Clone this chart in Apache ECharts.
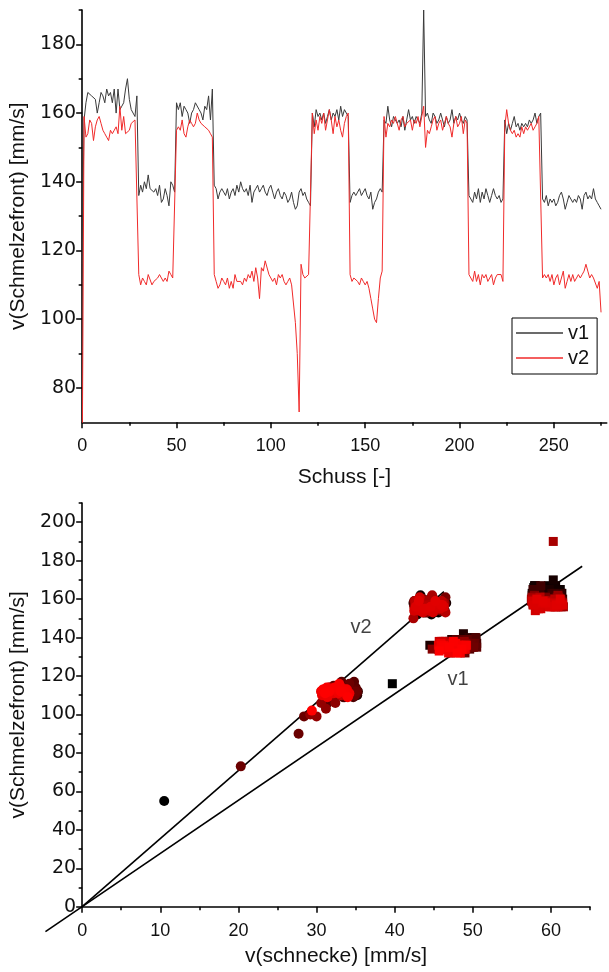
<!DOCTYPE html>
<html><head><meta charset="utf-8">
<script src="https://cdn.jsdelivr.net/npm/echarts@6/dist/echarts.min.js"></script>
<style>html,body{margin:0;padding:0;background:#fff}#c{width:609px;height:972px}</style>
</head><body><div id="c"></div>
<script>
// v(Schmelzefront) per shot (index = Schuss)
const v1 = [116,
158,163,166,166,165,165,164,160,163,166,
165,163,167,165,166,163,167,160,167,161,
162,163,167,170,164,161,160,159,165,
136,139,137,140,138,142,138,138,137,138,
136,139,134,135,138,136,133,140,139,137,
163,161,163,159,162,161,160,157,160,161,
163,163,161,160,158,162,161,165,158,167,
139,138,135,137,138,137,136,138,135,137,
138,136,139,137,140,138,137,138,136,139,
134,137,138,139,137,138,139,137,136,138,
139,137,135,137,138,136,135,137,136,134,
135,137,134,132,133,137,138,136,137,135,
134,133,
160,156,161,159,160,158,160,157,159,161,
158,160,159,161,158,162,159,161,160,159,
134,136,137,136,137,138,136,137,138,136,
135,137,132,134,135,137,138,137,
158,157,162,158,156,159,159,157,158,156,
159,155,158,161,158,159,157,159,158,157,
160,190,159,160,158,157,160,159,157,158,
160,158,156,159,157,158,161,157,159,158,
160,158,157,159,158,
136,135,134,137,135,138,134,137,135,138,
136,134,136,138,136,135,136,134,135,
158,154,157,155,157,159,156,157,155,157,
156,157,156,158,157,158,160,157,159,160,
135,134,136,133,135,134,135,133,134,136,
137,135,132,134,136,135,134,135,134,136,
135,132,136,137,135,136,135,138,135,134,
133,132];
const v2 = [55,
159,153,154,158,157,152,156,158,159,157,
155,154,153,152,155,154,155,156,154,162,
155,159,154,154,155,157,157,158,158,
113,110,112,111,110,113,113,110,111,111,
112,113,112,111,112,111,114,113,112,112,
155,156,155,158,154,153,156,158,157,156,
157,160,158,157,157,156,156,155,154,153,
113,111,109,110,112,111,110,112,109,111,
109,113,111,111,111,110,112,111,113,112,
114,111,115,112,106,115,114,117,117,113,
112,111,112,110,113,112,113,111,110,111,
112,110,110,99,90,73,116,113,112,112,
113,113,
160,154,158,155,159,157,160,155,158,161,
158,154,159,156,158,155,153,157,159,160,
113,111,112,112,111,110,112,111,110,111,
109,106,103,100,99,106,112,114,
159,153,157,156,158,157,159,157,155,158,
159,156,157,157,158,155,158,157,159,156,
159,162,150,155,154,156,158,159,155,157,
158,155,157,159,157,156,153,157,159,156,
157,159,154,158,157,
113,112,111,114,111,113,110,113,112,113,
111,112,113,110,112,113,113,113,111,
156,161,157,155,154,155,153,154,153,156,
154,156,155,156,157,155,156,157,159,159,
112,113,112,113,111,113,110,112,113,110,
112,114,109,111,113,111,113,111,112,113,
112,113,114,116,114,112,113,112,112,109,
111,102];
// v(schnecke) paired with v1 (squares) and with v2 (circles), per shot
const s1 = [39.7,
59.2,58.1,60.4,57.8,59.9,61.0,58.5,60.2,57.6,59.5,
60.8,58.3,59.7,61.2,58.8,60.0,57.9,59.3,60.6,58.6,
59.1,61.4,58.0,60.3,59.6,57.7,60.9,58.4,59.8,
44.5,49.6,47.4,50.2,48.1,48.8,47.0,50.4,47.7,49.3,
47.6,49.9,48.4,49.1,47.2,50.3,47.9,49.5,47.3,49.7,
60.1,58.2,61.3,59.0,57.6,60.7,58.9,59.7,61.0,57.9,
60.4,58.6,59.4,61.5,58.0,60.2,59.1,57.7,60.9,58.7,
48.3,50.1,47.1,49.0,47.8,50.5,47.5,49.4,48.6,46.9,
49.8,48.0,49.2,47.3,50.4,48.5,48.9,47.6,50.0,48.2,
49.6,47.0,48.7,47.9,50.3,47.4,49.1,48.4,49.7,47.2,
49.3,48.1,50.5,46.8,48.8,47.7,49.9,47.5,49.5,48.3,
47.1,50.2,48.6,49.0,47.3,49.8,48.0,49.4,47.6,50.1,
47.8,48.7,
58.4,60.6,59.3,57.8,61.1,58.9,60.0,59.6,57.5,60.8,
58.2,59.9,61.4,58.6,60.3,57.9,59.2,61.0,58.0,60.5,
44.8,48.0,46.3,48.7,46.9,47.6,45.8,49.1,46.5,48.2,
46.1,48.4,47.2,45.6,47.8,46.7,48.9,46.0,
59.5,57.7,60.9,58.3,61.3,59.0,57.9,60.4,58.7,61.6,
59.8,58.1,60.2,57.6,61.0,58.9,59.4,60.7,58.4,61.2,
57.8,60.3,59.1,58.5,61.4,59.7,57.5,60.6,58.8,59.9,
61.1,58.2,60.0,57.9,59.3,61.5,58.6,60.8,59.2,57.7,
60.5,58.0,61.2,59.6,58.4,
47.7,45.9,48.8,46.6,48.3,46.2,49.1,47.0,47.5,45.7,
48.5,47.3,48.0,46.0,48.9,46.7,47.4,46.3,48.6,
60.2,58.0,61.3,58.7,59.6,57.6,60.9,59.1,58.4,61.1,
59.8,57.8,60.4,58.9,61.5,59.3,58.2,60.7,59.0,61.2,
46.8,49.0,45.6,47.9,47.2,48.5,46.1,47.6,46.4,49.2,
45.9,48.1,46.9,48.7,46.3,47.4,46.6,48.9,45.8,48.2,
47.1,48.4,46.0,47.8,46.7,49.1,46.2,47.5,47.0,48.6,
45.7,48.0];
const s2 = [10.5,
44.1,45.6,42.8,43.9,46.0,44.7,43.2,45.1,42.6,44.4,
45.9,43.5,44.9,42.9,45.3,43.8,46.2,44.0,42.7,43.3,
45.7,44.6,43.1,46.4,44.3,42.5,45.0,43.6,46.6,
34.2,32.4,35.0,32.9,34.6,32.0,33.7,35.2,32.7,33.9,
33.2,34.8,32.2,34.4,33.5,35.1,32.6,34.0,33.0,35.3,
45.2,43.0,44.8,42.4,46.1,43.7,45.5,44.2,42.8,45.8,
43.4,44.5,46.3,42.6,44.0,45.4,43.1,44.7,46.0,43.9,
32.3,33.8,33.4,34.9,32.1,34.5,32.8,35.1,33.6,32.5,
34.7,33.1,35.2,31.9,34.1,33.3,35.0,32.7,34.3,32.9,
35.0,32.4,33.9,33.5,31.4,32.2,34.6,33.2,34.8,32.6,
34.0,33.7,35.2,32.0,34.4,33.0,35.1,32.3,33.6,34.7,
32.5,34.9,33.4,28.4,27.7,20.3,34.2,32.7,35.0,33.3,
33.8,32.4,
43.5,45.9,42.7,44.6,46.2,43.2,45.0,42.9,44.3,46.5,
43.8,45.3,42.5,44.8,43.0,45.7,44.1,42.8,46.0,43.6,
31.8,33.9,30.7,33.1,31.4,33.6,31.2,32.7,32.0,34.1,
30.9,32.4,31.2,29.2,30.0,30.6,33.3,31.7,
44.7,42.6,45.8,43.4,46.1,44.0,42.9,45.4,43.7,46.4,
44.2,42.5,45.1,43.3,45.9,44.5,42.8,46.3,43.9,45.0,
43.1,44.8,42.4,45.6,44.1,46.0,43.5,42.7,45.3,44.4,
46.2,43.0,44.9,42.6,45.7,43.8,46.5,44.3,42.9,45.2,
43.6,46.0,44.6,42.7,45.5,
32.9,30.8,33.7,31.6,33.3,31.1,34.0,32.2,30.6,32.7,
31.9,33.5,31.0,33.1,31.4,33.8,31.3,32.5,32.1,
45.1,43.2,46.1,42.8,44.5,45.8,43.6,42.5,44.9,46.3,
43.3,45.4,44.0,42.7,45.9,43.8,44.6,46.0,43.1,45.2,
31.5,33.4,30.9,33.0,32.2,33.9,30.7,32.6,31.8,34.1,
31.2,33.2,31.4,33.6,31.0,32.8,32.0,34.2,30.6,32.4,
31.7,33.8,31.3,32.9,32.3,33.5,30.8,33.1,31.6,34.0,
31.1,29.4];
// fit lines [x0, y0, x1, y1] in data units, and their annotation texts
const fitLines = [[-4.7, -13.0, 64.0, 177.1], [0, 0, 46.3, 163.9]];
const fitLabels = [[35.7, 145.2, 'v2'], [48.1, 118.0, 'v1']];
// tick values
const topXMajor = [0, 50, 100, 150, 200, 250];
const topXMinor = [25, 75, 125, 175, 225, 275];
const topYMajor = [80, 100, 120, 140, 160, 180];
const topYMinor = [90, 110, 130, 150, 170, 190];
const botXMajor = [0, 10, 20, 30, 40, 50, 60];
const botXMinor = [5, 15, 25, 35, 45, 55, 65];
const botYMajor = [0, 20, 40, 60, 80, 100, 120, 140, 160, 180, 200];
const botYMinor = [10, 30, 50, 70, 90, 110, 130, 150, 170, 190, 210];

const AX = '#000';
const XFONT = {fontFamily: 'Liberation Sans', fontSize: 18, color: '#111'};
const YFONT = {fontFamily: 'DejaVu Sans', fontSize: 19, color: '#111'};
const NAMEFONT = {fontFamily: 'Liberation Sans', fontSize: 21, color: '#111'};

function axisPair(grid, isX, min, max, major, minor, name, nameGap) {
  const pos = isX ? 'bottom' : 'left';
  const main = {
    type: 'value', gridIndex: grid, min: min, max: max, position: pos,
    axisLine: {show: true, onZero: false, lineStyle: {color: AX, width: 1.6}},
    axisTick: {show: true, inside: false, length: 6, customValues: major, lineStyle: {color: AX, width: 1.5}},
    axisLabel: Object.assign({show: true, customValues: major, margin: isX ? 15 : 6}, isX ? XFONT : YFONT),
    splitLine: {show: false},
    name: name, nameLocation: 'middle', nameGap: nameGap, nameTextStyle: NAMEFONT
  };
  const mnr = {
    type: 'value', gridIndex: grid, min: min, max: max, position: pos, offset: 0,
    axisLine: {show: false, onZero: false},
    axisTick: {show: true, inside: false, length: 3.5, customValues: minor, lineStyle: {color: AX, width: 1.5}},
    axisLabel: {show: false},
    splitLine: {show: false}
  };
  return [main, mnr];
}

const xAxes = [].concat(
  axisPair(0, true, 0, 278, topXMajor, topXMinor, 'Schuss [-]', 44),
  axisPair(1, true, 0, 65, botXMajor, botXMinor, 'v(schnecke) [mm/s]', 39)
);
const yAxes = [].concat(
  axisPair(0, false, 70, 190, topYMajor, topYMinor, 'v(Schmelzefront) [mm/s]', 39),
  axisPair(1, false, 0, 210, botYMajor, botYMinor, 'v(Schmelzefront) [mm/s]', 39)
);

const chart = echarts.init(document.getElementById('c'), null, {renderer: 'canvas'});
chart.setOption({
  animation: false,
  backgroundColor: '#fff',
  grid: [
    {left: 82, top: 10, width: 524.7, height: 412.3, containLabel: false},
    {left: 81.5, top: 503, width: 508.5, height: 403.7, containLabel: false}
  ],
  xAxis: xAxes,
  yAxis: yAxes,
  legend: {
    data: ['v1', 'v2'], orient: 'vertical', left: 512, top: 318,
    padding: [5, 8, 6, 4], itemGap: 5, itemWidth: 47, itemHeight: 1.5,
    icon: 'rect',
    borderColor: '#000', borderWidth: 1, backgroundColor: '#fff',
    textStyle: {fontFamily: 'Liberation Sans', fontSize: 20, color: '#111', lineHeight: 20}
  },
  visualMap: {
    type: 'continuous', show: false, min: 0, max: v1.length - 1, dimension: 2,
    seriesIndex: [2, 3], inRange: {color: ['#000000', '#ff0000']}
  },
  series: [
    {name: 'v1', type: 'line', xAxisIndex: 0, yAxisIndex: 0, symbol: 'none', showSymbol: false,
     color: '#3a3a3a', lineStyle: {color: '#3a3a3a', width: 1},
     data: v1.map((v, i) => [i, v])},
    {name: 'v2', type: 'line', xAxisIndex: 0, yAxisIndex: 0, symbol: 'none', showSymbol: false,
     color: '#f02a2a', lineStyle: {color: '#f02a2a', width: 1},
     data: v2.map((v, i) => [i, v])},
    {name: 'v2 vs Schnecke', type: 'scatter', xAxisIndex: 2, yAxisIndex: 2, symbol: 'circle', symbolSize: 10,
     itemStyle: {opacity: 1}, data: s2.map((x, i) => [x, v2[i], i])},
    {name: 'v1 vs Schnecke', type: 'scatter', xAxisIndex: 2, yAxisIndex: 2, symbol: 'rect', symbolSize: 9,
     itemStyle: {opacity: 1}, data: s1.map((x, i) => [x, v1[i], i])},
    {name: 'fits', type: 'custom', xAxisIndex: 2, yAxisIndex: 2, clip: false,
     encode: {x: [0, 2], y: [1, 3]},
     renderItem: function (params, api) {
       const a = api.coord([api.value(0), api.value(1)]);
       const b = api.coord([api.value(2), api.value(3)]);
       return {type: 'line', shape: {x1: a[0], y1: a[1], x2: b[0], y2: b[1]},
               style: {stroke: '#000', lineWidth: 1.6}};
     },
     data: fitLines},
    {name: 'labels', type: 'scatter', xAxisIndex: 2, yAxisIndex: 2, symbolSize: 0,
     label: {show: true, position: 'inside', formatter: p => p.data[2],
             fontFamily: 'Liberation Sans', fontSize: 20, color: '#111'},
     data: fitLabels}
  ]
});
</script>
</body></html>
